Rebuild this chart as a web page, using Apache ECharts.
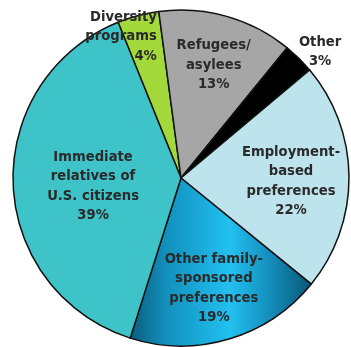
<!DOCTYPE html>
<html>
<head>
<meta charset="utf-8">
<script src="https://cdn.jsdelivr.net/npm/echarts@6/dist/echarts.min.js"></script>
<style>
  html, body { margin: 0; padding: 0; background: #fff; }
  #chart { width: 351px; height: 347px; }
</style>
</head>
<body>
<div id="chart"></div>
<script>
// slice labels (clockwise from the top-left) and their shares in %
const categories = [
    'Diversity\nprograms',
    'Refugees/\nasylees',
    'Other',
    'Employment-\nbased\npreferences',
    'Other family-\nsponsored\npreferences',
    'Immediate\nrelatives of\nU.S. citizens'
];
const shares = [4, 13, 3, 22, 19, 39];

// slice fills
const colors = [
    '#a3d93a',
    '#a6a6a6',
    '#000000',
    '#bde4ec',
    new echarts.graphic.LinearGradient(0, 0, 1, 0, [
        { offset: 0, color: '#0b5c7c' },
        { offset: 0.2, color: '#1290bd' },
        { offset: 0.55, color: '#22c0f0' },
        { offset: 0.8, color: '#1287b3' },
        { offset: 1, color: '#0a5676' }
    ]),
    '#3ec3c8'
];

// nudges for the labels, from where 'inside' puts them
const labelShift = [[-2, -57], [9, -29], [78, -64], [23, 4], [8, 27], [-1, 5]];

const chart = echarts.init(document.getElementById('chart'));
chart.setOption({
    animation: false,
    series: [{
        type: 'pie',
        center: [181, 178],
        radius: 168,
        startAngle: 112,
        clockwise: true,
        avoidLabelOverlap: false,
        data: categories.map((name, i) => ({
            name: name,
            value: shares[i],
            itemStyle: { color: colors[i] }
        })),
        itemStyle: {
            borderColor: '#111',
            borderWidth: 1.5
        },
        label: {
            show: true,
            position: 'inside',
            formatter: p => p.name + '\n' + p.value + '%',
            color: '#2a2a2a',
            fontFamily: 'DejaVu Sans',
            fontWeight: 'bold',
            fontSize: 13.2,
            lineHeight: 19.5
        },
        labelLayout: p => {
            const s = labelShift[p.dataIndex];
            const out = { dx: s[0], dy: s[1] };
            if (p.dataIndex === 0) out.align = 'right';
            return out;
        },
        labelLine: { show: false }
    }]
});
</script>
</body>
</html>
